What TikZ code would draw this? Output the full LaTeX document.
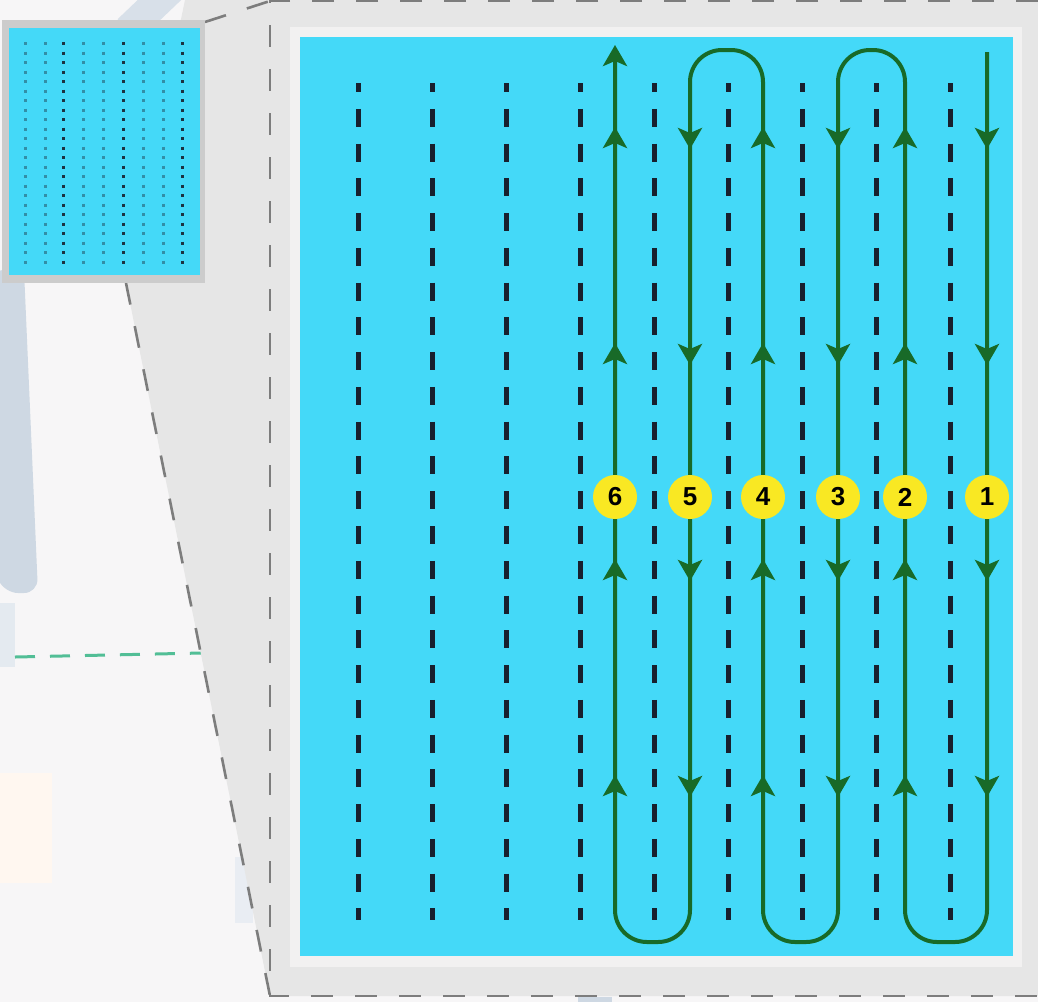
\documentclass[tikz,border=0pt]{standalone}
\usepackage{fontspec}
\setmainfont{Liberation Sans}
\usetikzlibrary{arrows.meta}

\definecolor{pool}{RGB}{68,217,248}
\definecolor{lane}{RGB}{24,106,40}
\definecolor{badge}{RGB}{249,232,35}
\definecolor{paper}{RGB}{247,246,247}
\definecolor{panelgray}{RGB}{230,230,230}
\definecolor{card}{RGB}{242,241,241}
\definecolor{ghost}{RGB}{206,216,227}
\definecolor{mint}{RGB}{82,190,150}
\definecolor{edge}{RGB}{125,125,125}
\definecolor{tick}{RGB}{24,32,46}
\definecolor{framegray}{RGB}{204,204,204}

\tikzset{
  lanepath/.style={draw=lane, line width=4pt, rounded corners=32pt},
  lanetip/.style={lane, line width=4pt, -{Stealth[length=21pt,width=24pt,inset=5pt]}},
  badgenode/.style={circle, fill=badge, minimum size=44pt, inner sep=0pt,
    font=\fontsize{26}{26}\selectfont\bfseries},
  markline/.style={tick, line width=5pt, dash pattern=on 18pt off 16.77pt, dash phase=9pt},
  zoomedge/.style={edge, line width=2.6pt, dash pattern=on 22pt off 22pt},
}

\begin{document}
\begin{tikzpicture}[x=1pt, y=-1pt, >=Stealth]
    \useasboundingbox (0,0) rectangle (1038,1002);

    % 1. 背景与淡色元素
    \fill[paper] (0,0) rectangle (1038,1002);
    \draw[ghost!80, line width=30pt] (172,-12) -- (128,30);
    \fill[ghost, rounded corners=14pt] (-10,270) -- (24,270) -- (38,593) -- (4,593) -- (-10,560) -- cycle;
    \fill[ghost!55] (0,603) rectangle (15,667);
    \fill[orange!6] (0,773) rectangle (52,883);
    \fill[ghost!45] (235,857) rectangle (253,923);
    \draw[mint, line width=3pt, dash pattern=on 20pt off 15pt] (15,657) -- (202,653);

    % 2. 放大区域 (灰色梯形)
    \coordinate (tne) at (205,22);
    \coordinate (tsw) at (126,283);
    \coordinate (pnw) at (270,1);
    \coordinate (psw) at (270,996);
    \coordinate (pse) at (1038,996);
    \coordinate (pne) at (1038,1);
    \fill[panelgray] (185,0) -- (1038,0) -- (1038,996) -- (psw) -- (tsw) -- cycle;
    \fill[ghost] (578,997) rectangle (612,1002);
    \draw[zoomedge] (tsw) -- (psw);
    \draw[zoomedge] (tne) -- (pnw);
    \draw[zoomedge] (pne) -- (pnw) -- (psw) -- (pse);

    % 3. 左上角缩略图
    \fill[framegray] (2,20) rectangle (205,283);
    \fill[pool] (9,28) rectangle (200,275);
    \foreach \x/\c in {25/0.4, 45/0.4, 63/0.9, 83/0.4, 103/0.4, 123/0.9, 143/0.4, 163/0.4, 182/0.9}
        \draw[tick, opacity=\c, line width=3pt, dash pattern=on 3pt off 6.5pt] (\x,42) -- (\x,266);

    % 4. 大图: 卡片与水面
    \fill[card] (290,27) rectangle (1022,967);
    \fill[pool] (300,37) rectangle (1013,956);

    % 5. 虚线泳道
    \foreach \x in {358,432,...,950}
        \draw[markline] (\x,83) -- (\x,920);

    % 6. 蛇形路线
    \coordinate (c1t) at (987,52);  \coordinate (c1b) at (987,942);
    \coordinate (c2b) at (905,942); \coordinate (c2t) at (905,50);
    \coordinate (c3t) at (838,50);  \coordinate (c3b) at (838,942);
    \coordinate (c4b) at (763,942); \coordinate (c4t) at (763,50);
    \coordinate (c5t) at (690,50);  \coordinate (c5b) at (690,942);
    \coordinate (c6b) at (615,942); \coordinate (c6t) at (615,45);
    \draw[lanepath, -{Stealth[length=21pt,width=24pt,inset=5pt]}]
        (c1t) -- (c1b) -- (c2b) -- (c2t) -- (c3t) -- (c3b) -- (c4b)
        -- (c4t) -- (c5t) -- (c5b) -- (c6b) -- (c6t);

    % 7. 方向箭头
    \foreach \y in {138,354,570,786} {
        \foreach \x in {987,838,690}
            \draw[lanetip] (\x,\y-22) -- (\x,\y+11);
        \foreach \x in {905,763,615}
            \draw[lanetip] (\x,\y+22) -- (\x,\y-11);
    }

    % 8. 编号
    \foreach \n/\x in {1/987, 2/905, 3/838, 4/763, 5/690, 6/615}
        \node[badgenode] (b\n) at (\x,497) {\n};

\end{tikzpicture}
\end{document}
